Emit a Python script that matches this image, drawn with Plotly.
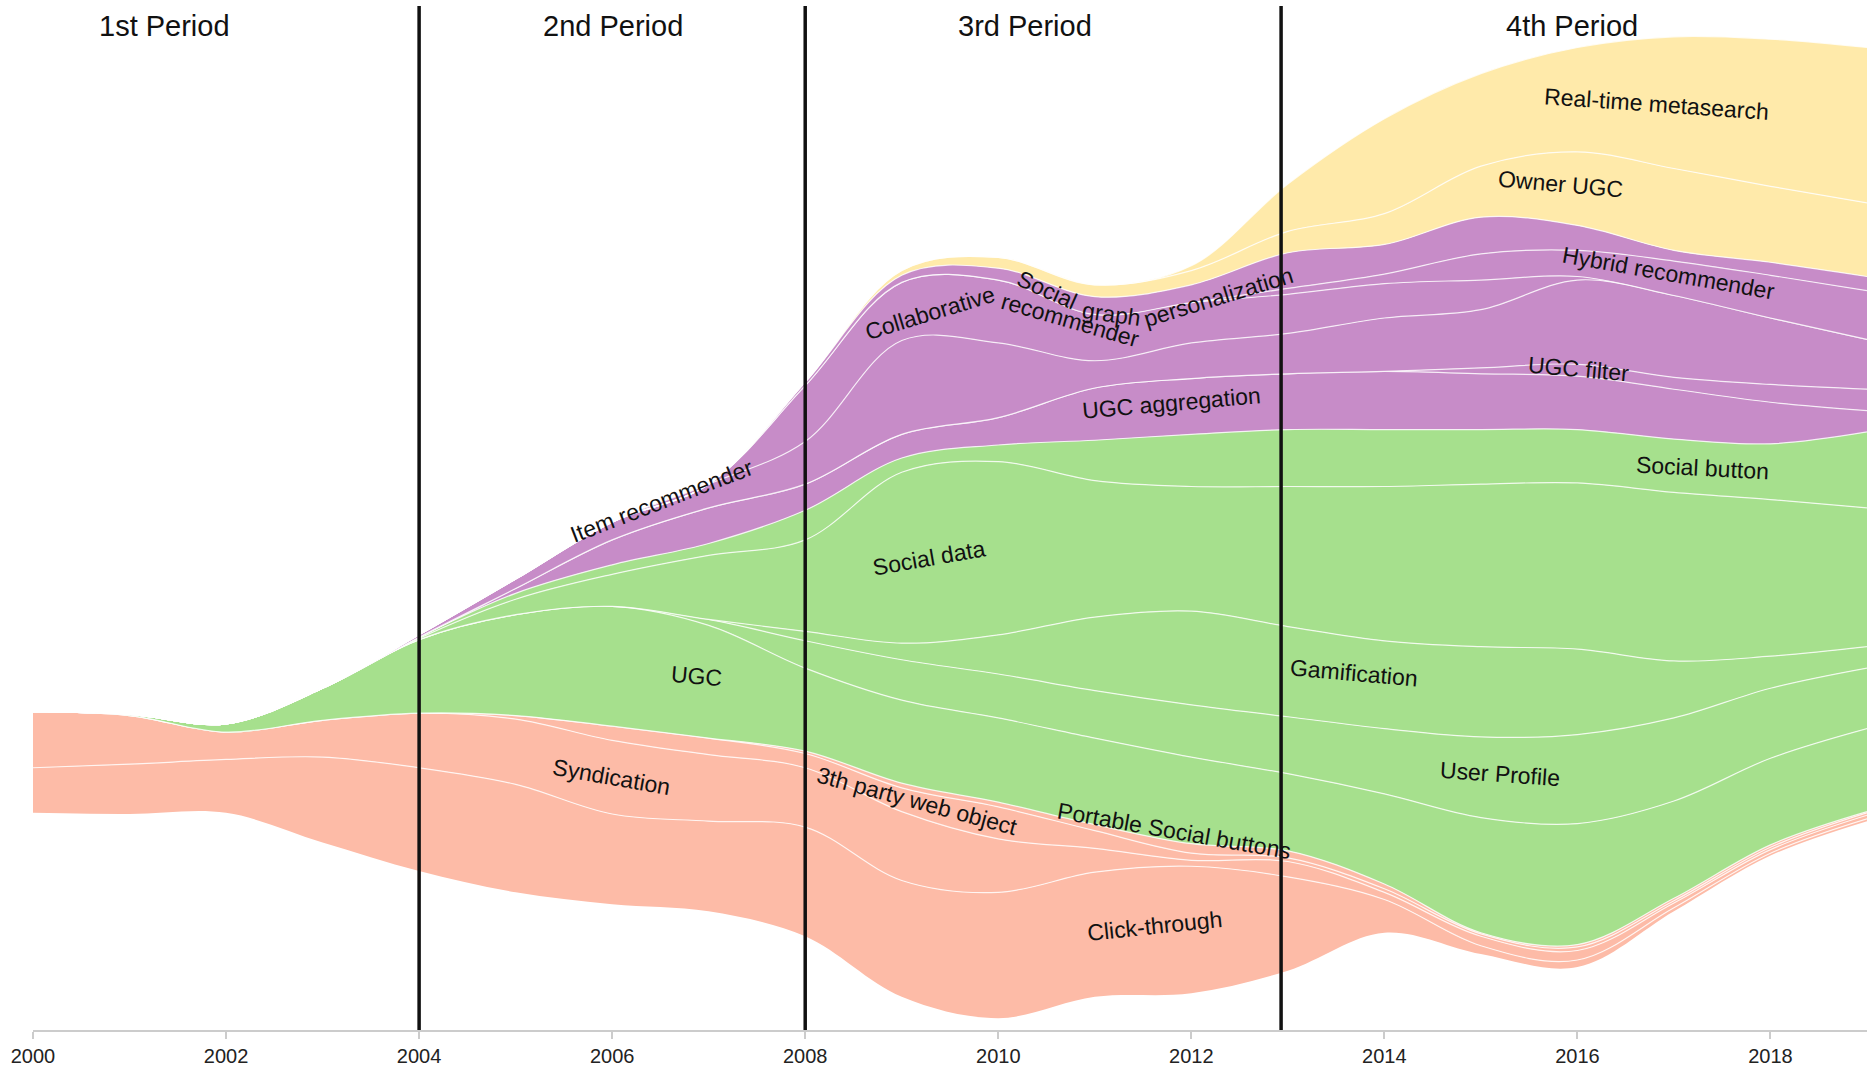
import plotly.graph_objects as go

# ---------------- data ----------------
years = list(range(2000, 2020))

# streamgraph offset of the lowest layer (same units as the layer values)
stream_baseline = [183, 182, 183, 158, 134, 116, 106, 100, 79, 28, 10, 28, 31, 50, 82, 64, 53, 100, 147, 176]

# salmon group
click_through = [38, 42, 45, 72, 87, 91, 76, 76, 92, 98, 106, 105, 107, 79, 28, 7, 6, 3, 2, 2]
syndication = [47, 41, 23, 31, 46, 55, 62, 56, 50, 58, 45, 20, 5, 13, 6, 8, 8, 4, 3, 3]
third_party_web_object = [0, 0, 0, 0, 0, 3, 12, 14, 12, 20, 27, 15, 6, 3, 3, 2, 3, 2, 2, 2]
portable_social_buttons = [0, 0, 0, 0, 0, 0, 0, 0, 2, 4, 4, 5, 8, 6, 4, 1, 2, 2, 2, 1]

# green group
ugc = [0, 1, 7, 27, 62, 85, 101, 95, 70, 70, 71, 73, 73, 65, 76, 97, 102, 82, 73, 70]
user_profile = [0, 0, 0, 0, 0, 0, 0, 5, 23, 34, 37, 40, 44, 48, 55, 68, 75, 70, 59, 51]
gamification = [0, 0, 0, 0, 0, 0, 0, 0, 8, 14, 33, 62, 79, 76, 74, 76, 72, 48, 27, 18]
social_data = [0, 0, 0, 0, 1, 13, 27, 54, 77, 144, 146, 115, 105, 118, 130, 137, 140, 142, 132, 117]
social_button = [0, 0, 0, 0, 1, 5, 8, 10, 25, 12, 14, 34, 44, 48, 48, 46, 45, 45, 47, 64]

# purple group
ugc_aggregation = [0, 0, 0, 0, 0, 4, 21, 30, 22, 20, 23, 44, 47, 47, 49, 47, 45, 42, 35, 18]
ugc_filter = [0, 0, 0, 0, 0, 0, 0, 0, 0, 0, 0, 0, 0, 0, 0, 5, 10, 10, 15, 18]
item_recommender = [0, 0, 0, 0, 2, 8, 15, 20, 36, 79, 63, 23, 30, 34, 45, 49, 71, 69, 56, 42]
collaborative_recommender = [0, 0, 0, 0, 0, 0, 0, 0, 47, 49, 53, 39, 34, 33, 29, 25, 3, 0, 0, 0]
hybrid_recommender = [0, 0, 0, 0, 0, 0, 0, 0, 0, 0, 0, 0, 0, 5, 8, 22, 22, 29, 36, 41]
social_graph_personalization = [0, 0, 0, 0, 0, 0, 0, 0, 3, 6, 10, 15, 15, 30, 25, 31, 21, 9, 11, 12]

# yellow group
owner_ugc = [0, 0, 0, 0, 0, 0, 0, 0, 0, 4, 9, 10, 12, 18, 26, 43, 62, 69, 64, 62]
realtime_metasearch = [0, 0, 0, 0, 0, 0, 0, 0, 0, 0, 0, 0, 4, 40, 80, 78, 88, 111, 124, 131]

period_bounds = [2004, 2008, 2012.93]
period_names = ["1st Period", "2nd Period", "3rd Period", "4th Period"]
period_label_years = [2001.36, 2006.01, 2010.28, 2015.94]
tick_years = list(range(2000, 2019, 2))

# ---------------- styling ----------------
SALMON = "#fdbba7"
GREEN = "#a6e08d"
PURPLE = "#c78cc8"
YELLOW = "#ffeaaa"
FONT = "Liberation Sans, Arial, sans-serif"

layers = [
    ("Click-through", click_through, SALMON),
    ("Syndication", syndication, SALMON),
    ("3th party web object", third_party_web_object, SALMON),
    ("Portable Social buttons", portable_social_buttons, SALMON),
    ("UGC", ugc, GREEN),
    ("User Profile", user_profile, GREEN),
    ("Gamification", gamification, GREEN),
    ("Social data", social_data, GREEN),
    ("Social button", social_button, GREEN),
    ("UGC aggregation", ugc_aggregation, PURPLE),
    ("UGC filter", ugc_filter, PURPLE),
    ("Item recommender", item_recommender, PURPLE),
    ("Collaborative recommender", collaborative_recommender, PURPLE),
    ("Hybrid recommender", hybrid_recommender, PURPLE),
    ("Social graph personalization", social_graph_personalization, PURPLE),
    ("Owner UGC", owner_ugc, YELLOW),
    ("Real-time metasearch", realtime_metasearch, YELLOW),
]

# label placement: (text, year, value, angle); curved labels split into words
layer_labels = [
    ("Syndication", 2005.99, 213, 10),
    ("3th party web object", 2009.16, 193, 15),
    ("Portable Social buttons", 2011.83, 168, 10),
    ("Click-through", 2011.62, 88, -6),
    ("UGC", 2006.87, 298, 5),
    ("Social data", 2009.28, 398, -10),
    ("Gamification", 2013.69, 301, 5),
    ("User Profile", 2015.2, 216, 4),
    ("Social button", 2017.3, 474, 3),
    ("Item recommender", 2006.51, 446, -21),
    ("Collaborative", 2009.29, 604, -17),
    ("recommender", 2010.74, 598, 16),
    ("Social", 2010.51, 624, 24),
    ("graph", 2011.17, 603, 8),
    ("personalization", 2012.28, 618, -17),
    ("UGC aggregation", 2011.79, 528, -5),
    ("UGC filter", 2016.01, 557, 5),
    ("Hybrid recommender", 2016.94, 638, 10),
    ("Owner UGC", 2015.82, 713, 5),
    ("Real-time metasearch", 2016.82, 780, 4),
]

fig = go.Figure()

# invisible baseline
fig.add_trace(go.Scatter(
    x=years, y=stream_baseline, mode="lines",
    line=dict(width=0, shape="spline", smoothing=1.0),
    hoverinfo="skip", showlegend=False,
))

cum = list(stream_baseline)
for name, vals, color in layers:
    cum = [c + v for c, v in zip(cum, vals)]
    fig.add_trace(go.Scatter(
        x=years, y=cum, mode="lines", name=name,
        line=dict(color="rgba(255,255,255,0.8)", width=1.2, shape="spline", smoothing=1.0),
        fill="tonexty", fillcolor=color,
        hoverinfo="skip", showlegend=False,
    ))

shapes = []
for b in period_bounds:
    shapes.append(dict(type="line", xref="x", yref="y", x0=b, x1=b, y0=0, y1=863,
                       line=dict(color="#111111", width=3.5), layer="above"))

annotations = []
for name, yr in zip(period_names, period_label_years):
    annotations.append(dict(x=yr, y=846, xref="x", yref="y", text=name, showarrow=False,
                            font=dict(family=FONT, size=29, color="#111111")))
for text, yr, val, ang in layer_labels:
    annotations.append(dict(x=yr, y=val, xref="x", yref="y", text=text, showarrow=False,
                            textangle=ang, font=dict(family=FONT, size=23, color="#111111")))

fig.update_layout(
    width=1867, height=1067,
    margin=dict(l=33, r=0, t=0, b=34),
    paper_bgcolor="white", plot_bgcolor="white",
    shapes=shapes, annotations=annotations,
    font=dict(family=FONT),
    xaxis=dict(range=[2000, 2019], tickvals=tick_years, showgrid=False, zeroline=False,
               showline=True, linecolor="#cccccc", linewidth=1.5,
               ticks="outside", ticklen=7, tickcolor="#cccccc", tickwidth=1.5,
               tickfont=dict(family=FONT, size=20, color="#222222")),
    yaxis=dict(range=[0, 868], visible=False, showgrid=False, zeroline=False),
    hovermode=False,
)

fig.write_html("out.html", config={"displayModeBar": False},
               post_script="document.body.style.margin='0';document.body.style.padding='0';")
